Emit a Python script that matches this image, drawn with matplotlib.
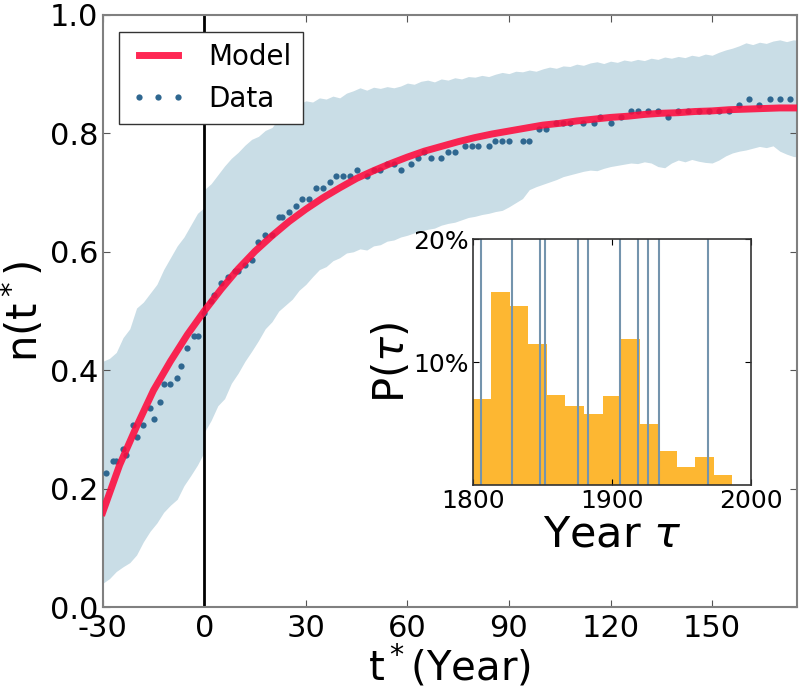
import numpy as np
import matplotlib
matplotlib.use('Agg')
import matplotlib.pyplot as plt

plt.rcParams['font.family'] = ['DejaVu Sans']
plt.rcParams['mathtext.default'] = 'regular'
plt.rcParams['axes.unicode_minus'] = False

# Model curve (every 5 years)
modelT = [-30, -25, -20, -15, -10, -5, 0, 5, 10, 15, 20, 25, 30, 35, 40, 45, 50, 55, 60, 65, 70,
          75, 80, 85, 90, 95, 100, 105, 110, 115, 120, 125, 130, 135, 140, 145, 150, 155, 160,
          165, 170, 175]
modelN = [0.160, 0.240, 0.305, 0.366, 0.415, 0.460, 0.500, 0.537, 0.571, 0.601, 0.627, 0.651,
          0.672, 0.691, 0.708, 0.724, 0.737, 0.749, 0.760, 0.770, 0.778, 0.786, 0.793, 0.799,
          0.804, 0.809, 0.814, 0.817, 0.821, 0.824, 0.827, 0.829, 0.832, 0.834, 0.835, 0.837,
          0.838, 0.840, 0.841, 0.842, 0.843, 0.843]

# Data dots
dataT = [-29, -27, -26, -24, -23, -21, -20, -18, -16, -15, -13, -12, -10, -8, -7, -5, -3, -2,
         0, 2, 3, 5, 7, 9, 10, 12, 14, 16, 18, 20, 22, 23, 25, 27, 29, 31, 33, 35, 37, 39, 41,
         43, 45, 48, 50, 52, 54, 56, 58, 61, 63, 65, 67, 70, 72, 74, 77, 79, 81, 84, 86, 88, 90,
         94, 96, 99, 101, 104, 106, 108, 112, 115, 117, 120, 123, 126, 128, 131, 134, 137, 140,
         143, 146, 149, 152, 155, 158, 161, 164, 167, 170, 173]
dataN = [0.227, 0.247, 0.247, 0.267, 0.257, 0.307, 0.287, 0.307, 0.337, 0.317, 0.347, 0.377,
         0.377, 0.387, 0.407, 0.437, 0.457, 0.457, 0.497, 0.517, 0.527, 0.547, 0.557, 0.567,
         0.567, 0.577, 0.587, 0.617, 0.628, 0.628, 0.658, 0.658, 0.668, 0.678, 0.689, 0.689,
         0.708, 0.708, 0.718, 0.728, 0.728, 0.728, 0.738, 0.728, 0.738, 0.738, 0.748, 0.748,
         0.738, 0.748, 0.758, 0.768, 0.758, 0.758, 0.768, 0.768, 0.778, 0.778, 0.778, 0.778,
         0.788, 0.788, 0.788, 0.788, 0.788, 0.807, 0.807, 0.818, 0.818, 0.818, 0.818, 0.818,
         0.828, 0.818, 0.828, 0.838, 0.838, 0.838, 0.838, 0.828, 0.838, 0.838, 0.838, 0.838,
         0.838, 0.838, 0.848, 0.858, 0.848, 0.858, 0.858, 0.858]

# Band before t*=0
bandLeftT = [-30, -28, -26, -24, -22, -20, -18, -16, -14, -12, -10, -8, -6, -4, -2, 0]
bandLeftUp = [0.415, 0.42, 0.43, 0.455, 0.47, 0.505, 0.515, 0.53, 0.545, 0.57, 0.59, 0.61,
              0.625, 0.645, 0.665, 0.675]
bandLeftLo = [0.04, 0.048, 0.06, 0.068, 0.075, 0.088, 0.11, 0.128, 0.142, 0.16, 0.172, 0.182,
              0.205, 0.222, 0.24, 0.262]

# Band after t*=0 (every 2 years, 0..176)
bandRightT = list(range(0, 177, 2))
bandRightUp = [0.705, 0.715, 0.73, 0.745, 0.758, 0.768, 0.78, 0.79, 0.795, 0.805, 0.81, 0.825,
               0.838, 0.842, 0.85, 0.855, 0.853, 0.86, 0.858, 0.863, 0.86, 0.868, 0.872, 0.877,
               0.873, 0.878, 0.876, 0.879, 0.877, 0.88, 0.885, 0.883, 0.888, 0.89, 0.887, 0.892,
               0.89, 0.894, 0.892, 0.896, 0.895, 0.898, 0.896, 0.9, 0.903, 0.901, 0.905, 0.904,
               0.907, 0.905, 0.909, 0.912, 0.91, 0.914, 0.913, 0.917, 0.915, 0.919, 0.921, 0.918,
               0.922, 0.92, 0.924, 0.922, 0.925, 0.923, 0.927, 0.925, 0.929, 0.927, 0.93, 0.928,
               0.932, 0.93, 0.934, 0.932, 0.937, 0.941, 0.944, 0.948, 0.953, 0.95, 0.954, 0.952,
               0.956, 0.958, 0.955, 0.958, 0.957]
bandRightLo = [0.295, 0.315, 0.34, 0.352, 0.378, 0.395, 0.415, 0.432, 0.45, 0.47, 0.482, 0.5,
               0.51, 0.52, 0.535, 0.545, 0.558, 0.57, 0.575, 0.585, 0.59, 0.598, 0.6, 0.605,
               0.603, 0.61, 0.612, 0.618, 0.62, 0.625, 0.628, 0.632, 0.635, 0.638, 0.64, 0.645,
               0.648, 0.65, 0.654, 0.658, 0.66, 0.663, 0.665, 0.668, 0.67, 0.676, 0.683, 0.69,
               0.705, 0.71, 0.714, 0.718, 0.722, 0.727, 0.73, 0.733, 0.736, 0.738, 0.737, 0.741,
               0.744, 0.746, 0.748, 0.75, 0.749, 0.752, 0.75, 0.744, 0.742, 0.75, 0.755, 0.752,
               0.756, 0.753, 0.751, 0.75, 0.755, 0.762, 0.767, 0.77, 0.772, 0.775, 0.778, 0.776,
               0.779, 0.77, 0.765, 0.761, 0.76]

# Inset histogram
binWidth = 200 / 15
binLeft = [1800 + k * binWidth for k in range(14)]
binHeight = [0.0696, 0.157, 0.1455, 0.115, 0.073, 0.064, 0.0575, 0.072, 0.119, 0.0496, 0.0274,
             0.0146, 0.0228, 0.0081]
markYears = [1806, 1828, 1848, 1852, 1876, 1883, 1906, 1919, 1926, 1934, 1969]

bandColor = '#c9dde6'
dotColor = '#2f6790'
redColor = '#ff0a3c'

fig = plt.figure(figsize=(8, 6.88), dpi=100)
ax = fig.add_axes([0.1284, 0.1177, 0.8675, 0.8605])

ax.fill_between(bandLeftT, bandLeftLo, bandLeftUp, color=bandColor, lw=0, zorder=1)
ax.fill_between(bandRightT, bandRightLo, bandRightUp, color=bandColor, lw=0, zorder=1)
ax.axvline(0, color='k', lw=2, zorder=2)
ax.plot(dataT, dataN, 'o', color=dotColor, ms=4.5, mew=0, label='Data', zorder=3)
ax.plot(modelT, modelN, color=redColor, lw=5, alpha=0.88, label='Model', zorder=4)

ax.set_xlim(-30, 175)
ax.set_ylim(0, 1)
ax.set_xticks([-30, 0, 30, 60, 90, 120, 150])
ax.set_yticks([0.0, 0.2, 0.4, 0.6, 0.8, 1.0])
ax.set_yticklabels(['0.0', '0.2', '0.4', '0.6', '0.8', '1.0'])
ax.tick_params(direction='in', top=True, right=True, labelsize=22, length=5,
               color='#555555')
ax.tick_params(axis='x', pad=5)
ax.tick_params(axis='y', pad=3)
for s in ax.spines.values():
    s.set_color('#808080')
    s.set_linewidth(1.5)
ax.set_xlabel('t$^*$(Year)', fontsize=29, labelpad=0)
ax.set_ylabel('n(t$^*$)', fontsize=30, labelpad=2)

handles, labels = ax.get_legend_handles_labels()
leg = ax.legend(handles[::-1], labels[::-1], loc='upper left', fontsize=20, numpoints=3,
                fancybox=False, framealpha=1, edgecolor='#333333', handlelength=2.0,
                borderaxespad=0.6)
leg.get_frame().set_linewidth(1)

# Inset
axIn = fig.add_axes([0.591, 0.295, 0.3475, 0.3576])
axIn.bar(binLeft, binHeight, width=binWidth, align='edge', color='#fdb732', lw=0, zorder=1)
for y in markYears:
    axIn.axvline(y, color='#7494ad', lw=1.5, zorder=2)
axIn.set_xlim(1800, 2000)
axIn.set_ylim(0, 0.2)
axIn.set_xticks([1800, 1900, 2000])
axIn.set_yticks([0.1, 0.2])
axIn.set_yticklabels(['10%', '20%'])
axIn.tick_params(direction='in', top=True, right=True, labelsize=18, length=4, pad=3)
for s in axIn.spines.values():
    s.set_color('#333333')
    s.set_linewidth(1.2)
axIn.set_xlabel(r'Year $\mathit{\tau}$', fontsize=31, labelpad=0)
axIn.set_ylabel(r'P($\mathit{\tau}$)', fontsize=30, labelpad=0)

fig.savefig('out.png', dpi=100)
